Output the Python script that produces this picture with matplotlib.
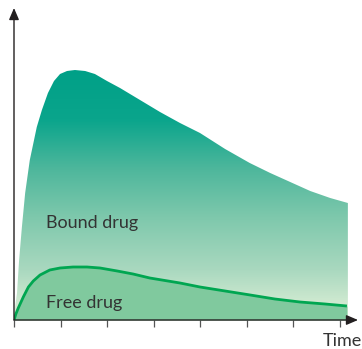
import numpy as np
import matplotlib.pyplot as plt
from matplotlib.colors import LinearSegmentedColormap

# values (time in tick units, level in arbitrary units)
bound_t = [0, 0.02, 0.065, 0.11, 0.17, 0.24, 0.34, 0.49, 0.6, 0.73, 0.86,
           0.99, 1.14, 1.31, 1.53, 1.74, 2.0, 2.28, 2.71, 3.14, 3.57,
           4.0, 4.54, 5.07, 5.51, 5.94, 6.37, 6.8, 7.18]
bound_y = [0, 12, 27, 60, 93, 127, 160, 193, 210, 227, 239,
           246, 249, 250, 249, 246, 239, 232, 220, 208, 197,
           187, 171, 157, 147, 138, 129, 122, 117]

free_t = [0, 0.04, 0.092, 0.2, 0.31, 0.415, 0.56, 0.77, 0.99, 1.27, 1.57,
          1.85, 2.22, 2.56, 2.92, 3.57, 4.0, 4.54, 5.08, 5.61, 6.15,
          6.69, 7.16]
free_y = [0, 6, 12, 23, 33, 39, 45, 50, 52, 53, 53,
          52, 49, 46, 42, 37, 33, 29, 25, 21, 18,
          16, 14]

time_ticks = [0, 1, 2, 3, 4, 5, 6, 7]

# colours
axis_col = '#231f20'
line_col = '#00a651'
free_fill = '#80c99e'
grad = LinearSegmentedColormap.from_list('bound', [
    (0.0, '#e2f2d9'), (0.2, '#a9d8bf'), (0.4, '#80c9ad'),
    (0.6, '#4fb79c'), (0.8, '#0aa58c'), (1.0, '#00a087')])

W, H = 362, 349
fig = plt.figure(figsize=(W / 100, H / 100), dpi=100)
x0, y0, x1, y1 = 14, 320, 358, 8
ax = fig.add_axes([x0 / W, 1 - y0 / H, (x1 - x0) / W, (y0 - y1) / H])
xmax = (x1 - x0) / 46.5
ymax = y0 - y1
ax.set_xlim(0, xmax)
ax.set_ylim(0, ymax)

# bound drug area with vertical gradient
poly = ax.fill_between(bound_t, 0, bound_y, color='none', lw=0)
img = ax.imshow(np.linspace(0, 1, 256).reshape(-1, 1), cmap=grad, origin='lower',
                extent=[0, bound_t[-1], 0, max(bound_y)], aspect='auto', zorder=1)
img.set_clip_path(poly.get_paths()[0], transform=ax.transData)

# free drug
ax.fill_between(free_t, 0, free_y, color=free_fill, lw=0, zorder=2)
ax.plot(free_t, free_y, color=line_col, lw=2.0, zorder=3, solid_capstyle='butt',
        solid_joinstyle='round')

# axes with arrows
for s in ax.spines.values():
    s.set_visible(False)
ax.annotate('', xy=(xmax, 0), xytext=(0, 0), annotation_clip=False,
            arrowprops=dict(arrowstyle='-|>,head_length=0.7,head_width=0.3',
                            color=axis_col, lw=1.0, shrinkA=0, shrinkB=0), zorder=4)
ax.annotate('', xy=(0, ymax), xytext=(0, 0), annotation_clip=False,
            arrowprops=dict(arrowstyle='-|>,head_length=0.7,head_width=0.3',
                            color=axis_col, lw=1.0, shrinkA=0, shrinkB=0), zorder=4)
ax.set_xticks(time_ticks)
ax.set_xticklabels([])
ax.set_yticks([])
ax.tick_params(axis='x', direction='out', length=5, width=0.9, color='#555555')

font = dict(family=['Lato', 'DejaVu Sans'], color='#333333', fontsize=13)
ax.text(0.69, 97, 'Bound drug', va='center', ha='left', **font)
ax.text(0.69, 17, 'Free drug', va='center', ha='left', **font)
fig.text(362 / W, 1 - 341 / H, 'Time', ha='right', va='center', **font)

fig.savefig('out.png', dpi=100)
